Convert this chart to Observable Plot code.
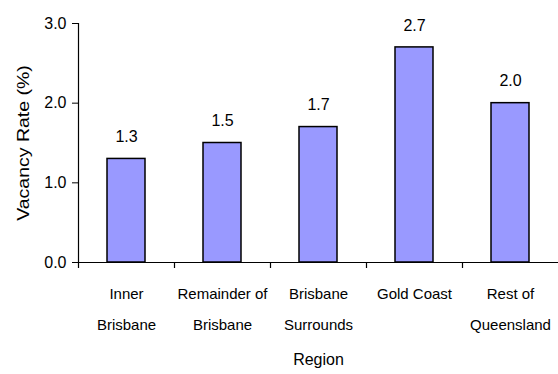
<!DOCTYPE html>
<html><head><meta charset="utf-8">
<script src="https://cdn.jsdelivr.net/npm/d3@7"></script>
<script src="https://cdn.jsdelivr.net/npm/@observablehq/plot@0.6"></script>
<style>body{margin:0;background:#fff}</style>
</head><body><div id="chart"></div>
<script>
const regions = ["Inner Brisbane", "Remainder of Brisbane", "Brisbane Surrounds", "Gold Coast", "Rest of Queensland"];
const tickLabels = ["Inner\nBrisbane", "Remainder of\nBrisbane", "Brisbane\nSurrounds", "Gold Coast", "Rest of\nQueensland"];
const vacancyRates = [1.3, 1.5, 1.7, 2.7, 2.0];
const yTicks = [0, 1, 2, 3];
const yLabel = "Vacancy Rate (%)";
const xLabel = "Region";

const data = regions.map((r, i) => ({region: r, value: vacancyRates[i]}));
const W = 558, H = 374, mL = 78, mR = 0, mT = 23, mB = 112;
const step = (W - mL - mR) / regions.length;
const font = "'Liberation Sans', Arial, sans-serif";

const chart = Plot.plot({
  width: W, height: H,
  marginLeft: mL, marginRight: mR, marginTop: mT, marginBottom: mB,
  style: {fontFamily: font, fontSize: "16px", color: "#000", background: "#fff", overflow: "visible"},
  x: {domain: regions, paddingInner: 0.6, paddingOuter: 0.3, label: null},
  y: {domain: [0, 3], label: null},
  marks: [
    Plot.barY(data, {x: "region", y: "value", fill: "#9999ff", stroke: "#000", strokeWidth: 1.5}),
    Plot.ruleY([0], {stroke: "#000", strokeWidth: 1.2}),
    Plot.ruleX(regions, {x: d => d, y1: 0, y2: 0, dx: -step / 2, insetBottom: -6, stroke: "#000", strokeWidth: 1.2}),
    Plot.ruleX([regions[0]], {x: d => d, y1: 0, y2: 3, dx: -step / 2, stroke: "#000", strokeWidth: 1.2}),
    Plot.axisY({ticks: yTicks, tickFormat: d3.format(".1f"), tickSize: 6, tickPadding: 6, fontSize: 16, label: null, stroke: "#000"}),
    Plot.axisX({tickSize: 0, tickPadding: 14, tickFormat: d => tickLabels[regions.indexOf(d)], lineHeight: 2.1, fontSize: 15, label: null}),
    Plot.text(data, {x: "region", y: "value", text: d => d.value.toFixed(1), dy: -22, fontSize: 16}),
    Plot.text([xLabel], {text: d => d, frameAnchor: "bottom", lineAnchor: "top", dy: 91, fontSize: 16}),
    Plot.text([yLabel], {text: d => d, frameAnchor: "left", textAnchor: "middle", rotate: -90, dx: -55, fontSize: 16})
  ]
});
document.getElementById("chart").appendChild(chart);
// stretch the rotated y label along its length, as in the reference
const textGroups = chart.querySelectorAll('g[aria-label="text"]');
const yl = textGroups[textGroups.length - 1].querySelector("text");
if (yl) yl.setAttribute("transform", (yl.getAttribute("transform") || "") + " scale(1.22,1)");
</script>
</body></html>
